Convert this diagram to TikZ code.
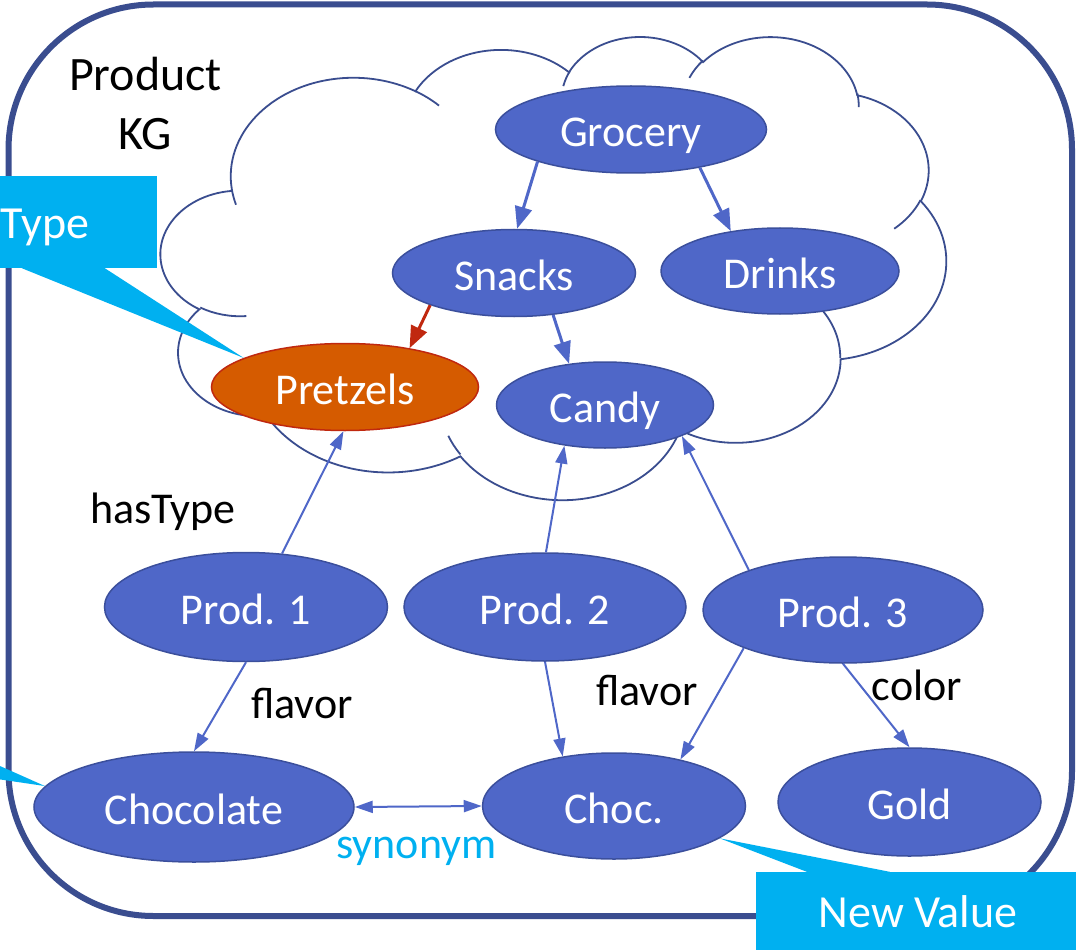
\documentclass[tikz,border=0pt]{standalone}
\usepackage{fontspec}
\setmainfont{Carlito}
\usetikzlibrary{arrows.meta, positioning, calc, shapes.geometric}

\definecolor{kgblue}{HTML}{4F67C8}
\definecolor{kgline}{HTML}{3B4F9C}
\definecolor{framecol}{HTML}{3A4D8F}
\definecolor{pretzfill}{HTML}{D55B00}
\definecolor{pretzline}{HTML}{C0280F}
\definecolor{callcol}{HTML}{00B0F0}

\newcommand\kgfont{\fontsize{44pt}{53pt}\selectfont}
\newcommand\titlefont{\fontsize{48pt}{59pt}\selectfont}
\newcommand\callfont{\fontsize{46pt}{55pt}\selectfont}

% cloud outline arcs: visual angles -> parametric angles
\newcommand\cloudang[4]{%
  \pgfmathparse{atan2((#1)*sin(#3),(#2)*cos(#3))}\xdef\cloudts{\pgfmathresult}%
  \pgfmathparse{atan2((#1)*sin((#3)+(#4)),(#2)*cos((#3)+(#4)))}\xdef\cloudte{\pgfmathresult}%
  \pgfmathparse{mod((\cloudte)-(\cloudts)+720,360)}\xdef\cloudtd{\pgfmathresult}%
}

\begin{document}
\begin{tikzpicture}[
x=1pt, y=-1pt,
kgnode/.style 2 args={
ellipse,
draw=kgline,
line width=1.5pt,
fill=kgblue,
text=white,
inner sep=0pt,
font=\kgfont,
text height=34pt,
text depth=0pt,
minimum width=#1,
minimum height=#2
},
typenode/.style 2 args={
kgnode={#1}{#2},
draw=pretzline,
fill=pretzfill
},
kgarrow/.style={-{Triangle[length=22pt, width=17pt]}, line width=3pt, draw=kgblue},
relarrow/.style={-{Triangle[length=18pt, width=12pt]}, line width=2pt, draw=kgblue},
lab/.style={font=\kgfont, inner sep=0pt},
callout/.style={fill=callcol, text=white, font=\callfont, inner sep=0pt, text height=33pt, text depth=0pt},
cloudline/.style={draw=framecol, line width=1.8pt}
]
\useasboundingbox (0,0) rectangle (1076,952);
\clip (0,0) rectangle (1076,952);

% Frame
\draw[framecol, line width=6pt, rounded corners=145pt] (8.5,4.5) rectangle (1072,916);

% Cloud
\begin{scope}[shift={(161,35.5)}, xscale=1.8171, yscale=1.0718]
\draw[cloudline, fill=white] (39.00,143.70)
\foreach \a/\b/\s/\w in {67.53/91.90/-190.4875/123.7805, 53.33/72.67/-144.1024/89.9452,
43.65/59.45/-145.8079/99.7230, 48.57/65.95/-130.9861/117.2417,
53.33/72.73/-78.7089/109.0269, 67.75/92.20/-46.2673/130.2690,
57.85/78.67/0.6250/114.0333, 67.52/92.15/22.4516/115.1726,
77.20/105.43/66.2426/75.7110, 43.60/59.18/-274.9421/146.7356,
43.45/59.45/-246.8285/152.5189}
{ \pgfextra{\cloudang{\a}{\b}{\s}{\w}} arc[x radius=\a, y radius=\b, start angle=\cloudts, delta angle=\cloudtd] }
-- cycle;
\draw[cloudline]
\foreach \x/\y/\a/\b/\s/\w in {46.93/261.77/43.45/59.45/86.7420/26.4295,
69.28/348.99/43.60/59.18/73.6105/11.4475,
164.78/390.90/67.52/92.15/137.6242/14.0811,
288.27/347.51/67.52/92.15/6.4533/15.9984,
341.29/229.54/57.85/78.67/-70.2924/70.9174,
417.98/153.54/53.33/72.73/30.3180/27.7515,
383.24/54.26/48.57/65.95/-13.7443/14.8589,
290.78/39.52/48.57/65.95/-149.1815/18.1954,
221.41/47.20/43.65/59.45/-163.4943/17.6864,
140.00/51.92/67.53/91.90/-66.7070/12.3194,
41.27/157.89/67.53/91.90/157.6544/11.8582}
{ (\x,\y) \pgfextra{\cloudang{\a}{\b}{\s}{\w}} arc[x radius=\a, y radius=\b, start angle=\cloudts, delta angle=\cloudtd] };
\end{scope}

% Nodes
\node[kgnode={271pt}{87pt}] (grocery) at (631,129.5) {Grocery};
\node[kgnode={243pt}{87pt}] (snacks) at (514,273) {Snacks};
\node[kgnode={238pt}{86pt}] (drinks) at (780,271) {Drinks};
\node[typenode={267pt}{87pt}] (pretzels) at (345,387) {Pretzels};
\node[kgnode={217pt}{86pt}] (candy) at (605,405) {Candy};
\node[kgnode={283pt}{109pt}] (prod1) at (246,607) {Prod. 1};
\node[kgnode={282pt}{108pt}] (prod2) at (545,607) {Prod. 2};
\node[kgnode={280pt}{106pt}] (prod3) at (843,610) {Prod. 3};
\node[kgnode={320pt}{110pt}] (chocolate) at (194,807) {Chocolate};
\node[kgnode={263pt}{106pt}] (choc) at (614,806) {Choc.};
\node[kgnode={263pt}{108pt}] (gold) at (909.5,802) {Gold};

% Taxonomy
\draw[kgarrow] (grocery.199) -- (snacks.86);
\draw[kgarrow] (grocery.331) -- (drinks.141);
\draw[kgarrow, draw=pretzline] (snacks.201) -- (pretzels.31);
\draw[kgarrow] (snacks.313) -- (candy.131);

% Product relations
\draw[relarrow] (prod1.56) -- (pretzels.268);
\draw[relarrow] (prod2.89) -- (candy.225);
\draw[relarrow] (prod3.157) -- (candy.338);
\draw[relarrow] (prod1.south) -- (chocolate.north);
\draw[relarrow] (prod2.south) -- (choc.136);
\draw[relarrow] (prod3.201) -- (choc.35);
\draw[relarrow] (prod3.south) -- (gold.north);
\draw[relarrow, {Triangle[length=18pt, width=12pt]}-{Triangle[length=18pt, width=12pt]}] (chocolate.east) -- (choc.west);

% Labels
\node[lab, font=\titlefont, align=center, anchor=base] (kgtitle) at (145.5,150) {Product\\KG};
\node[lab, anchor=base] (hastype) at (163,523) {hasType};
\node[lab, anchor=base] (flavora) at (302,718) {flavor};
\node[lab, anchor=base] (flavorb) at (647,705) {flavor};
\node[lab, anchor=base] (colorlab) at (917,700) {color};
\node[lab, anchor=base, text=callcol] (synlab) at (416.5,858) {synonym};

% Callouts
\node[callout, minimum width=224pt, minimum height=92pt] (typecall) at (45,222) {Type};
\fill[callcol] ($(typecall.south west)+(89,0)$) -- (pretzels.164) -- ($(typecall.south west)+(172,0)$) -- cycle;

\node[callout, minimum width=324pt, minimum height=78pt] (newcall) at (918,911) {New Value};
\fill[callcol] ($(newcall.north west)+(51,0)$) -- (choc.343) -- ($(newcall.north west)+(134,0)$) -- cycle;

\coordinate (leftcalla) at (-30,752.7);
\coordinate (leftcallb) at (-30,775);
\fill[callcol] (leftcalla) -- (chocolate.172) -- (leftcallb) -- cycle;

\end{tikzpicture}
\end{document}
